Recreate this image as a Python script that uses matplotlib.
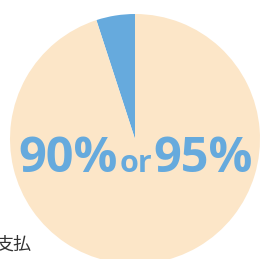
import matplotlib.pyplot as plt

# share of the pie: blue slice, beige rest
shares = [5, 95]
slice_colors = ['#66aadd', '#fce6c8']
big_left = '90%'
small_mid = 'or'
big_right = '95%'
side_label = '支払'

fig = plt.figure(figsize=(2.69, 2.59), dpi=100)
ax = fig.add_axes([0, 0, 1, 1])

ax.pie(shares, colors=slice_colors, startangle=90, counterclock=True,
       center=(135, 120), radius=125, frame=True,
       wedgeprops=dict(linewidth=0))
ax.set_xlim(0, 269)
ax.set_ylim(0, 259)
ax.set_aspect('equal')
ax.axis('off')

blue = '#66aadd'
ax.text(18, 87, big_left, color=blue, fontsize=35, fontweight='bold',
        family='Open Sans', ha='left', va='baseline')
ax.text(136, 87, small_mid, color=blue, fontsize=22, fontweight='bold',
        family='Open Sans', ha='center', va='baseline')
ax.text(253, 87, big_right, color=blue, fontsize=35, fontweight='bold',
        family='Open Sans', ha='right', va='baseline')

ax.text(31, 9, side_label, color='#333333', fontsize=13,
        family=['Noto Sans CJK JP', 'DejaVu Sans'], ha='right', va='baseline')

plt.savefig('out.png', dpi=100)
